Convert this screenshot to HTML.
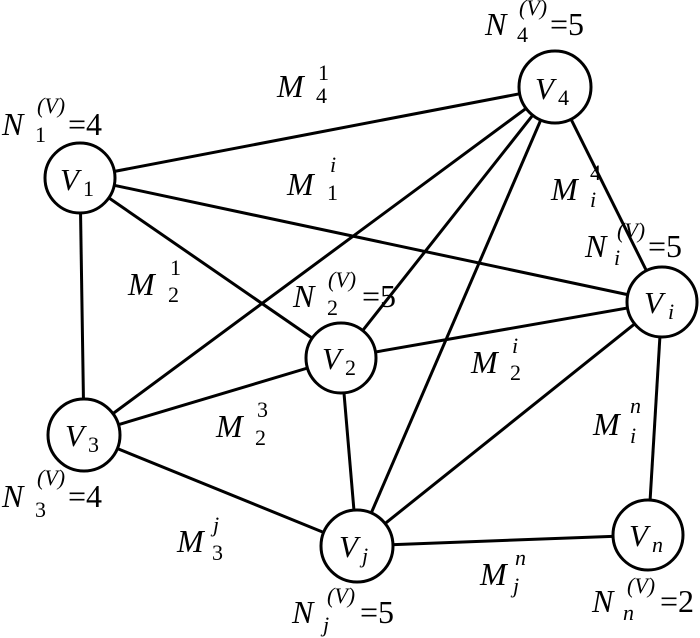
<!DOCTYPE html>
<html><head><meta charset="utf-8"><style>
html,body{margin:0;padding:0;background:#fff;width:700px;height:638px;overflow:hidden}
svg text{font-family:"Liberation Serif",serif;fill:#000}
.it{font-style:italic}
.b{font-size:32px}
.s{font-size:22px}
.v{font-size:31px}
</style></head><body>
<svg width="700" height="638" viewBox="0 0 700 638" xmlns="http://www.w3.org/2000/svg">
<g stroke="#000" stroke-width="3" fill="none">
<line x1="80" y1="178" x2="555" y2="87"/>
<line x1="80" y1="178" x2="662" y2="302"/>
<line x1="80" y1="178" x2="341" y2="358"/>
<line x1="80" y1="178" x2="84" y2="435"/>
<line x1="555" y1="87" x2="84" y2="435"/>
<line x1="555" y1="87" x2="341" y2="358"/>
<line x1="555" y1="87" x2="357" y2="546"/>
<line x1="555" y1="87" x2="662" y2="302"/>
<line x1="341" y1="358" x2="662" y2="302"/>
<line x1="341" y1="358" x2="84" y2="435"/>
<line x1="341" y1="358" x2="357" y2="546"/>
<line x1="84" y1="435" x2="357" y2="546"/>
<line x1="357" y1="546" x2="662" y2="302"/>
<line x1="357" y1="546" x2="648" y2="535"/>
<line x1="662" y1="302" x2="648" y2="535"/>
</g>
<g stroke="#000" stroke-width="3" fill="#fff">
<circle cx="80" cy="178" r="35"/>
<circle cx="555" cy="87" r="36"/>
<circle cx="662" cy="302" r="35"/>
<circle cx="341" cy="358" r="35"/>
<circle cx="84" cy="435" r="36"/>
<circle cx="357" cy="546" r="36"/>
<circle cx="648" cy="535" r="35"/>
</g>
<!-- node labels -->
<text x="60" y="190" class="it v">V</text><text x="83" y="196" class="s">1</text>
<text x="535" y="99" class="it v">V</text><text x="558" y="105" class="s">4</text>
<text x="644" y="313" class="it v">V</text><text x="668" y="319" class="s it">i</text>
<text x="322" y="369" class="it v">V</text><text x="345" y="375" class="s">2</text>
<text x="65" y="446" class="it v">V</text><text x="88" y="452" class="s">3</text>
<text x="339" y="557" class="it v">V</text><text x="362" y="563" class="s it">j</text>
<text x="629" y="546" class="it v">V</text><text x="652" y="552" class="s it">n</text>
<!-- edge labels -->
<text x="277" y="97" class="it b">M</text><text x="318" y="80" class="s">1</text><text x="316" y="103" class="s">4</text>
<text x="287" y="195" class="it b">M</text><text x="330" y="172" class="s it">i</text><text x="327" y="200" class="s">1</text>
<text x="551" y="200" class="it b">M</text><text x="590" y="180" class="s">4</text><text x="590" y="207" class="s it">i</text>
<text x="128" y="295" class="it b">M</text><text x="170" y="275" class="s">1</text><text x="168" y="302" class="s">2</text>
<text x="471" y="373" class="it b">M</text><text x="512" y="353" class="s it">i</text><text x="510" y="380" class="s">2</text>
<text x="216" y="437" class="it b">M</text><text x="257" y="417" class="s">3</text><text x="255" y="445" class="s">2</text>
<text x="593" y="435" class="it b">M</text><text x="630" y="413" class="s it">n</text><text x="630" y="443" class="s it">i</text>
<text x="177" y="552" class="it b">M</text><text x="213" y="532" class="s it">j</text><text x="212" y="560" class="s">3</text>
<text x="480" y="585" class="it b">M</text><text x="515" y="565" class="s it">n</text><text x="513" y="593" class="s it">j</text>
<!-- N labels -->
<text x="485" y="35" class="it b">N</text><text x="519" y="15" class="s it">(V)</text><text x="517" y="42" class="s">4</text><text x="550" y="35" class="b">=5</text>
<text x="2" y="135" class="it b">N</text><text x="37" y="113" class="s it">(V)</text><text x="35" y="142" class="s">1</text><text x="68" y="135" class="b">=4</text>
<text x="585" y="257" class="it b">N</text><text x="617" y="238" class="s it">(V)</text><text x="614" y="265" class="s it">i</text><text x="648" y="257" class="b">=5</text>
<text x="293" y="307" class="it b">N</text><text x="328" y="287" class="s it">(V)</text><text x="327" y="315" class="s">2</text><text x="362" y="307" class="b">=5</text>
<text x="2" y="507" class="it b">N</text><text x="37" y="485" class="s it">(V)</text><text x="35" y="517" class="s">3</text><text x="68" y="507" class="b">=4</text>
<text x="292" y="623" class="it b">N</text><text x="327" y="603" class="s it">(V)</text><text x="323" y="632" class="s it">j</text><text x="360" y="623" class="b">=5</text>
<text x="592" y="612" class="it b">N</text><text x="627" y="593" class="s it">(V)</text><text x="623" y="620" class="s it">n</text><text x="660" y="612" class="b">=2</text>
</svg>
</body></html>
